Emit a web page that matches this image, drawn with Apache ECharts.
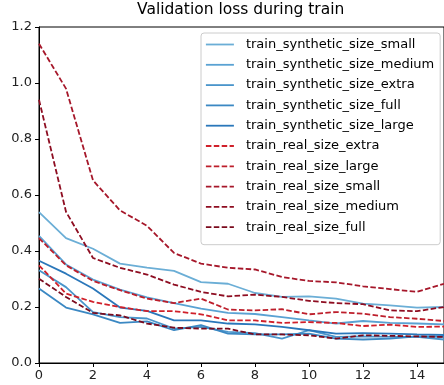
<!DOCTYPE html>
<html>
<head>
<meta charset="utf-8">
<script src="https://cdn.jsdelivr.net/npm/echarts@6/dist/echarts.min.js"></script>
<style>
html,body{margin:0;padding:0;background:#fff;}
#chart{width:444px;height:385px;}
</style>
</head>
<body>
<div id="chart"></div>
<script>
// ---- data ----
const epochs = [0,1,2,3,4,5,6,7,8,9,10,11,12,13,14,15];
const xTicks = [0,2,4,6,8,10,12,14];
const yTicks = [0.0,0.2,0.4,0.6,0.8,1.0,1.2];

const seriesNames = [
  'train_synthetic_size_small',
  'train_synthetic_size_medium',
  'train_synthetic_size_extra',
  'train_synthetic_size_full',
  'train_synthetic_size_large',
  'train_real_size_extra',
  'train_real_size_large',
  'train_real_size_small',
  'train_real_size_medium',
  'train_real_size_full'
];

const synSmall  = [0.539, 0.446, 0.408, 0.355, 0.341, 0.329, 0.289, 0.283, 0.250, 0.236, 0.238, 0.230, 0.212, 0.206, 0.198, 0.200];
const synMedium = [0.454, 0.352, 0.298, 0.262, 0.234, 0.214, 0.194, 0.179, 0.175, 0.164, 0.152, 0.141, 0.150, 0.143, 0.141, 0.138];
const synExtra  = [0.331, 0.271, 0.182, 0.164, 0.159, 0.123, 0.129, 0.111, 0.107, 0.087, 0.117, 0.093, 0.095, 0.093, 0.093, 0.084];
const synFull   = [0.266, 0.198, 0.174, 0.143, 0.149, 0.117, 0.135, 0.105, 0.102, 0.102, 0.105, 0.087, 0.084, 0.087, 0.095, 0.093];
const synLarge  = [0.365, 0.319, 0.266, 0.198, 0.186, 0.152, 0.152, 0.141, 0.138, 0.129, 0.117, 0.105, 0.107, 0.105, 0.102, 0.100];

const realExtra  = [0.349, 0.248, 0.218, 0.200, 0.185, 0.185, 0.174, 0.152, 0.152, 0.143, 0.146, 0.143, 0.132, 0.137, 0.129, 0.130];
const realLarge  = [0.446, 0.349, 0.293, 0.260, 0.230, 0.214, 0.230, 0.191, 0.188, 0.192, 0.174, 0.182, 0.176, 0.164, 0.158, 0.150];
const realSmall  = [1.140, 0.980, 0.652, 0.545, 0.490, 0.393, 0.355, 0.340, 0.334, 0.307, 0.293, 0.288, 0.274, 0.264, 0.254, 0.283];
const realMedium = [0.940, 0.540, 0.375, 0.340, 0.316, 0.280, 0.254, 0.238, 0.244, 0.236, 0.222, 0.214, 0.210, 0.188, 0.185, 0.200];
const realFull   = [0.301, 0.236, 0.179, 0.170, 0.141, 0.126, 0.123, 0.123, 0.102, 0.102, 0.099, 0.087, 0.099, 0.097, 0.095, 0.093];

const seriesValues = [synSmall, synMedium, synExtra, synFull, synLarge,
                      realExtra, realLarge, realSmall, realMedium, realFull];

// ---- styles ----
const colors = ['#6baed6', '#5aa2d3', '#4a95cb', '#3b88c3', '#2a77ba',
                '#d0202a', '#bd1e2b', '#a6172a', '#8e0d21', '#7a0a1d'];
const dashed = [false,false,false,false,false,true,true,true,true,true];

const FONT = 'DejaVu Sans';

const series = seriesNames.map((name, k) => ({
  name: name,
  type: 'line',
  data: epochs.map((e, i) => [e, seriesValues[k][i]]),
  symbol: 'none',
  showSymbol: false,
  smooth: false,
  animation: false,
  lineStyle: {
    color: colors[k],
    width: 1.8,
    type: dashed[k] ? [5.5, 2.4] : 'solid'
  },
  itemStyle: { color: colors[k] },
  emphasis: { disabled: true }
}));

const chart = echarts.init(document.getElementById('chart'), null, {renderer: 'canvas'});
chart.setOption({
  backgroundColor: '#ffffff',
  animation: false,
  title: {
    text: 'Validation loss during train',
    left: 137,
    top: 2,
    padding: 0,
    textStyle: { fontFamily: FONT, fontSize: 15.5, fontWeight: 'normal', color: '#000' }
  },
  grid: {
    left: 39, top: 27, width: 411, height: 336,
    show: true, borderColor: '#000', borderWidth: 1, backgroundColor: 'transparent'
  },
  legend: {
    orient: 'vertical',
    left: 201,
    top: 33,
    width: 230,
    padding: [5, 6, 11, 4],
    itemWidth: 28,
    itemHeight: 14,
    itemGap: 7.3,
    backgroundColor: 'rgba(255,255,255,0.8)',
    borderColor: '#cccccc',
    borderWidth: 1,
    borderRadius: 3,
    selectedMode: false,
    itemStyle: { color: 'rgba(0,0,0,0)', borderWidth: 0, opacity: 0 },
    lineStyle: { width: 1.8 },
    textStyle: { fontFamily: FONT, fontSize: 13, color: '#000', padding: [0, 0, 0, 7] },
    data: seriesNames
  },
  xAxis: {
    type: 'value',
    min: 0,
    max: 15,
    interval: 2,
    splitLine: { show: false },
    axisLine: { show: true, onZero: false, lineStyle: { color: '#000', width: 1 } },
    axisTick: { show: true, inside: false, length: 4, lineStyle: { color: '#000' } },
    axisLabel: {
      show: true, margin: 6, showMaxLabel: false,
      fontFamily: FONT, fontSize: 13, color: '#222',
      formatter: v => xTicks.includes(v) ? String(v) : ''
    }
  },
  yAxis: {
    type: 'value',
    min: 0,
    max: 1.2,
    interval: 0.2,
    splitLine: { show: false },
    axisLine: { show: true, onZero: false, lineStyle: { color: '#000', width: 1 } },
    axisTick: { show: true, inside: false, length: 4, lineStyle: { color: '#000' } },
    axisLabel: {
      show: true, margin: 7,
      fontFamily: FONT, fontSize: 13, color: '#222',
      formatter: v => {
        const t = yTicks.find(t => Math.abs(t - v) < 1e-6);
        return t === undefined ? '' : t.toFixed(1);
      }
    }
  },
  series: series
});
</script>
</body>
</html>
